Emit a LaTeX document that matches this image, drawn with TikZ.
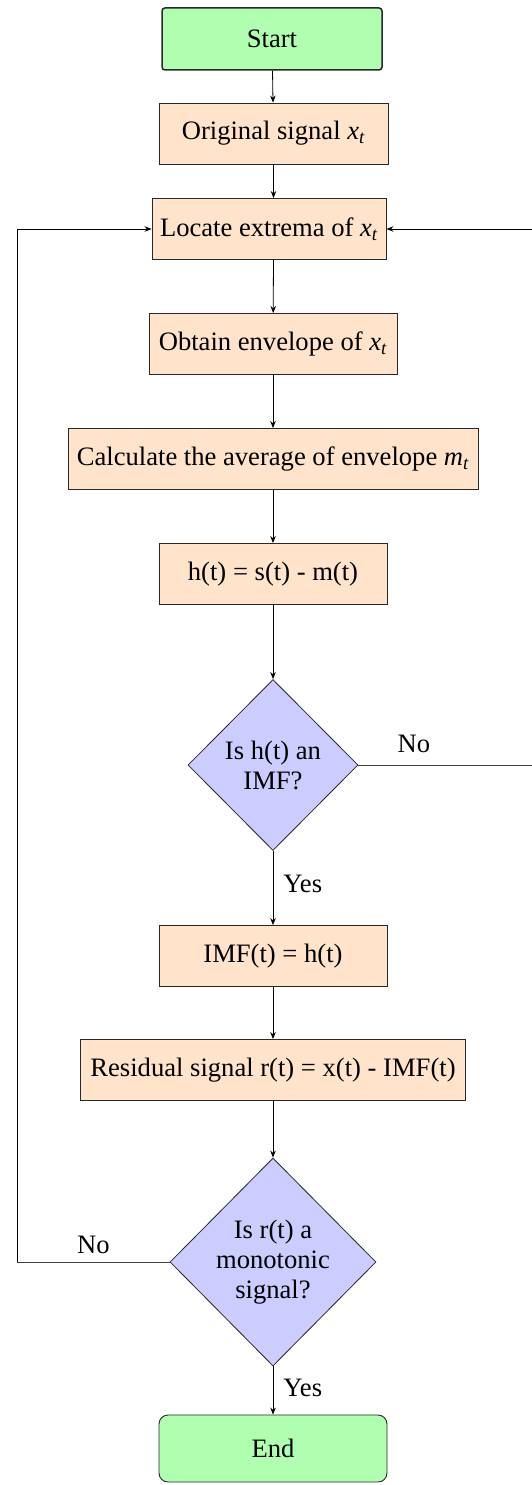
\documentclass[tikz,border=0pt]{standalone}
\usepackage{fontspec}
\setmainfont{Liberation Serif}
\usetikzlibrary{shapes.geometric,arrows.meta}
\definecolor{termfill}{RGB}{176,255,176}
\definecolor{procfill}{RGB}{255,227,202}
\definecolor{decfill}{RGB}{204,204,255}
\definecolor{edge}{RGB}{40,40,40}
\newcommand{\xt}{\textit{x}\textsubscript{\textit{t}}}
\begin{document}
\begin{tikzpicture}[x=1pt,y=-1pt,
  font=\fontsize{26.6}{30}\selectfont,
  every node/.style={inner sep=0pt},
  proc/.style={draw=edge,line width=0.9pt,fill=procfill,minimum height=61pt,align=center},
  term/.style={draw=edge,fill=termfill,minimum height=62pt,align=center},
  dec/.style={diamond,draw=edge,line width=0.8pt,fill=decfill,align=center,inner sep=0pt},
  conn/.style={draw=black,line width=0.8pt,-{Stealth[length=7pt,width=5.5pt]}},
  line/.style={draw=black!75,line width=0.9pt}
]
\useasboundingbox (0,0) rectangle (531,1485);
\node[term,line width=1.5pt,rounded corners=3pt,minimum width=220pt] (start) at (272,39) {Start};
\node[proc,minimum width=229pt] (orig) at (273.5,133.5) {Original signal \xt};
\node[proc,minimum width=234pt] (loc) at (269,229) {Locate extrema of \xt};
\node[proc,minimum width=248pt] (env) at (273,344) {Obtain envelope of \xt};
\node[proc,minimum width=410pt] (avg) at (273,459) {Calculate the average of envelope \textit{m}\textsubscript{\textit{t}}};
\node[proc,minimum width=228pt] (h) at (273,574) {h(t) = s(t) - m(t)};
\node[dec,minimum width=170pt,minimum height=171pt] (d1) at (273,765) {Is h(t) an\\IMF?};
\node[proc,minimum width=228pt] (imf) at (273,956) {IMF(t) = h(t)};
\node[proc,minimum width=385pt] (res) at (273,1070) {Residual signal r(t) = x(t) - IMF(t)};
\node[dec,minimum width=206pt,minimum height=208pt] (d2) at (273,1262) {Is r(t) a\\monotonic\\signal?};
\node[term,line width=0.9pt,rounded corners=9pt,minimum width=228pt,minimum height=67pt] (end) at (273,1448.5) {End};

\coordinate (rc) at (532,765);
\coordinate (lc) at (17,1262);

\draw[conn] (start) -- (orig);
\draw[conn] (orig) -- (orig |- loc.north);
\draw[conn] (orig |- loc.south) -- (env);
\draw[conn] (env) -- (avg);
\draw[conn] (avg) -- (h);
\draw[conn] (h) -- (d1);
\draw[conn] (d1) -- node[right=10pt,pos=0.45] {Yes} (imf);
\draw[conn] (imf) -- (res);
\draw[conn] (res) -- (d2);
\draw[conn] (d2) -- node[right=10pt,pos=0.45] {Yes} (end);
\draw[line] (d1.east) -- node[above=12pt,pos=0.32] {No} (rc);
\draw[conn] (rc) |- (loc.east);
\draw[line] (d2.west) -- node[above=8pt,pos=0.5] {No} (lc);
\draw[conn] (lc) |- (loc.west);
\end{tikzpicture}
\end{document}
